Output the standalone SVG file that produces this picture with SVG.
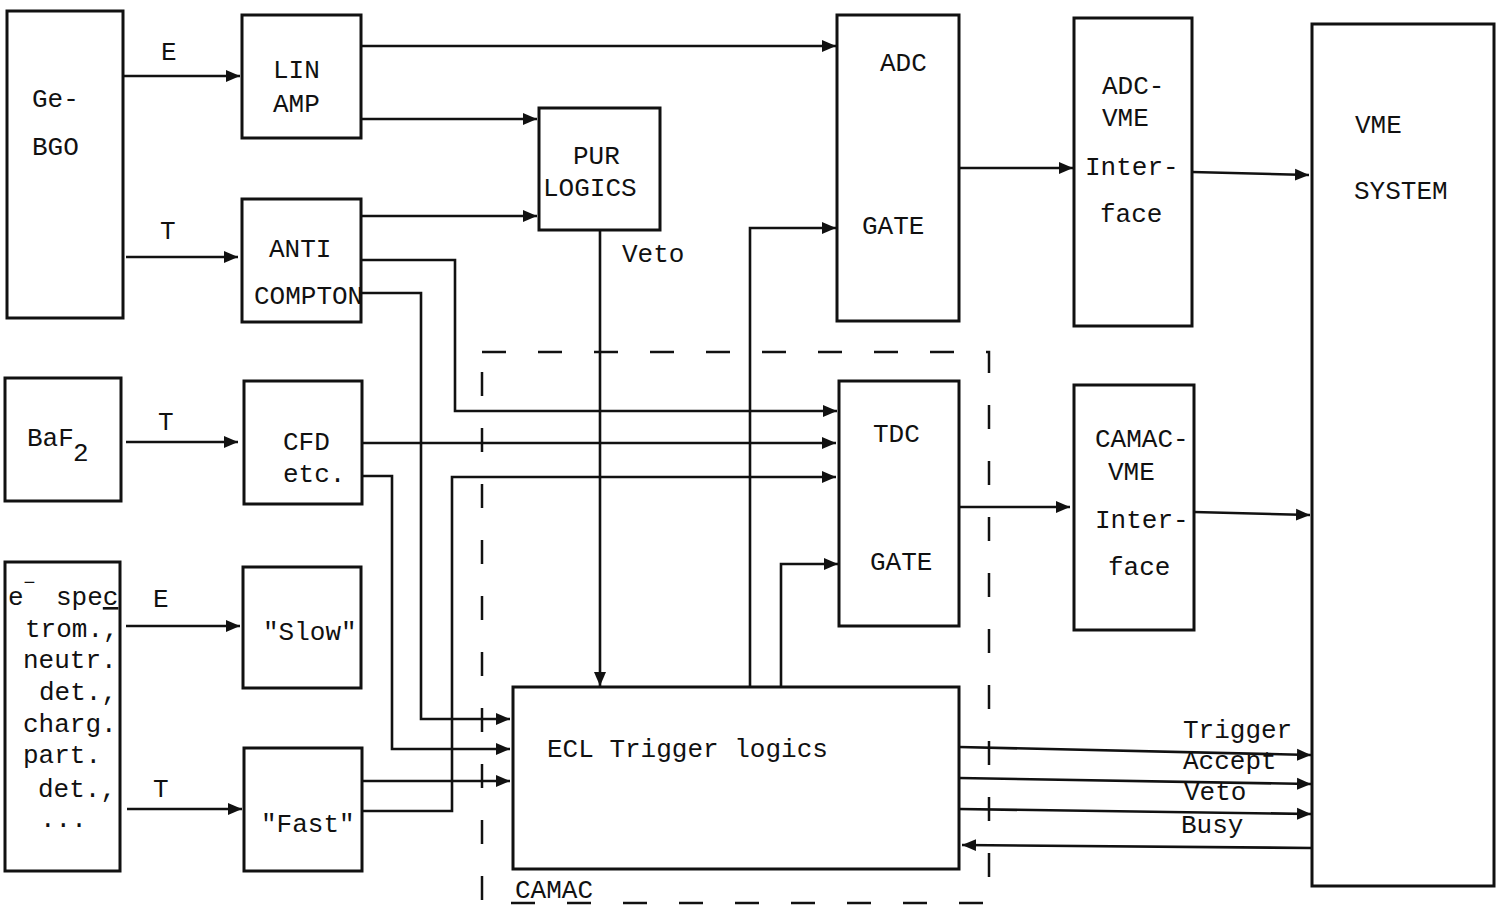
<svg xmlns="http://www.w3.org/2000/svg" width="1497" height="905" viewBox="0 0 1497 905">
<defs>
<marker id="ah" markerUnits="userSpaceOnUse" markerWidth="16" markerHeight="14" refX="14" refY="7" orient="auto">
<path d="M0,1 L14,7 L0,13 z" fill="#111"/>
</marker>
</defs>
<style>
.box{fill:#fff;stroke:#111;stroke-width:3}
.ln{fill:none;stroke:#111;stroke-width:2.5}
.ar{fill:none;stroke:#111;stroke-width:2.6;marker-end:url(#ah)}
.dash{fill:none;stroke:#111;stroke-width:2.5;stroke-dasharray:24 32}
text{font-family:"Liberation Mono","Courier New",monospace;font-size:26px;fill:#111}
</style>
<rect width="1497" height="905" fill="#fff"/>

<g id="camac-frame">
<rect class="dash" x="482" y="352" width="507" height="551"/>
<text x="515" y="898">CAMAC</text>
</g>

<g id="connectors">
<line class="ar" x1="124" y1="76" x2="240" y2="76"/>
<line class="ar" x1="126" y1="257" x2="238" y2="257"/>
<line class="ar" x1="126" y1="442" x2="238" y2="442"/>
<line class="ar" x1="126" y1="626" x2="240" y2="626"/>
<line class="ar" x1="127" y1="809" x2="242" y2="809"/>
<line class="ar" x1="361" y1="46" x2="836" y2="46"/>
<line class="ar" x1="361" y1="119" x2="537" y2="119"/>
<line class="ar" x1="361" y1="216" x2="537" y2="216"/>
<polyline class="ar" points="361,260 455,260 455,411 837,411"/>
<polyline class="ar" points="361,293 421,293 421,719 510,719"/>
<line class="ar" x1="361" y1="443" x2="836" y2="443"/>
<polyline class="ar" points="361,476 392,476 392,749 510,749"/>
<polyline class="ar" points="362,811 452,811 452,477 836,477"/>
<line class="ar" x1="362" y1="781" x2="510" y2="781"/>
<line class="ar" x1="600" y1="230" x2="600" y2="686"/>
<polyline class="ar" points="750,687 750,228 836,228"/>
<polyline class="ar" points="781,687 781,564 838,564"/>
<line class="ar" x1="959" y1="168" x2="1073" y2="168"/>
<line class="ar" x1="1192" y1="172" x2="1309" y2="175"/>
<line class="ar" x1="959" y1="507" x2="1070" y2="507"/>
<line class="ar" x1="1194" y1="512" x2="1310" y2="515"/>
<line class="ar" x1="959" y1="747" x2="1311" y2="755"/>
<line class="ar" x1="959" y1="778" x2="1311" y2="784"/>
<line class="ar" x1="959" y1="809" x2="1311" y2="814"/>
<line class="ar" x1="1312" y1="848" x2="962" y2="845"/>
<text x="161" y="60">E</text>
<text x="160" y="239">T</text>
<text x="158" y="430">T</text>
<text x="153" y="607">E</text>
<text x="153" y="797">T</text>
<text x="622" y="262">Veto</text>
<text x="1183" y="738">Trigger</text>
<text x="1183" y="769">Accept</text>
<text x="1184" y="800">Veto</text>
<text x="1181" y="833">Busy</text>
</g>

<g id="ge-bgo">
<rect class="box" x="7" y="11" width="116" height="307"/>
<text x="32" y="107">Ge-</text>
<text x="32" y="155">BGO</text>
</g>
<g id="lin-amp">
<rect class="box" x="242" y="15" width="119" height="123"/>
<text x="273" y="78">LIN</text>
<text x="273" y="112">AMP</text>
</g>
<g id="anti-compton">
<rect class="box" x="242" y="199" width="119" height="123"/>
<text x="269" y="257">ANTI</text>
<text x="254" y="304">COMPTON</text>
</g>
<g id="pur-logics">
<rect class="box" x="539" y="108" width="121" height="122"/>
<text x="573" y="164">PUR</text>
<text x="543" y="196">LOGICS</text>
</g>
<g id="adc">
<rect class="box" x="837" y="15" width="122" height="306"/>
<text x="880" y="71">ADC</text>
<text x="862" y="234">GATE</text>
</g>
<g id="adc-vme">
<rect class="box" x="1074" y="18" width="118" height="308"/>
<text x="1102" y="94">ADC-</text>
<text x="1102" y="126">VME</text>
<text x="1085" y="175">Inter-</text>
<text x="1100" y="222">face</text>
</g>
<g id="vme-system">
<rect class="box" x="1312" y="24" width="182" height="862"/>
<text x="1355" y="133">VME</text>
<text x="1354" y="199">SYSTEM</text>
</g>
<g id="baf2">
<rect class="box" x="5" y="378" width="116" height="123"/>
<text x="27" y="446">BaF<tspan x="73" y="461">2</tspan></text>
</g>
<g id="cfd">
<rect class="box" x="244" y="381" width="118" height="123"/>
<text x="283" y="450">CFD</text>
<text x="283" y="482">etc.</text>
</g>
<g id="tdc">
<rect class="box" x="839" y="381" width="120" height="245"/>
<text x="873" y="442">TDC</text>
<text x="870" y="570">GATE</text>
</g>
<g id="camac-vme">
<rect class="box" x="1074" y="385" width="120" height="245"/>
<text x="1095" y="447">CAMAC-</text>
<text x="1108" y="480">VME</text>
<text x="1095" y="528">Inter-</text>
<text x="1108" y="575">face</text>
</g>
<g id="espec">
<rect class="box" x="5" y="562" width="115" height="309"/>
<text x="8" y="605">e<tspan dy="-16" font-size="20">−</tspan><tspan x="56" y="605">spe<tspan text-decoration="underline">c</tspan></tspan></text>
<text x="25" y="637">trom.,</text>
<text x="23" y="668">neutr.</text>
<text x="39" y="700">det.,</text>
<text x="23" y="732">charg.</text>
<text x="23" y="763">part.</text>
<text x="38" y="797">det.,</text>
<text x="40" y="827">...</text>
</g>
<g id="slow">
<rect class="box" x="243" y="567" width="118" height="121"/>
<text x="263" y="640">"Slow"</text>
</g>
<g id="fast">
<rect class="box" x="244" y="748" width="118" height="123"/>
<text x="261" y="832">"Fast"</text>
</g>
<g id="ecl">
<rect class="box" x="513" y="687" width="446" height="182"/>
<text x="547" y="757">ECL Trigger logics</text>
</g>
</svg>
